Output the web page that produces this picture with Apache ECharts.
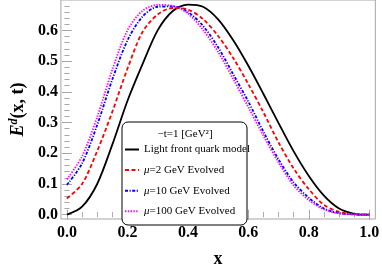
<!DOCTYPE html>
<html><head><meta charset="utf-8">
<script src="https://cdn.jsdelivr.net/npm/echarts@6/dist/echarts.min.js"></script>
<style>html,body{margin:0;padding:0;background:#fff}#c{width:382px;height:273px}</style>
</head><body><div id="c"></div>
<script>
// x grid of the sampled curves
const xs = [0, 0.05, 0.1, 0.15, 0.2, 0.25, 0.3, 0.35, 0.4, 0.45, 0.5, 0.55, 0.6, 0.65, 0.7, 0.75, 0.8, 0.85, 0.9, 0.95, 1.0];
// Light front quark model
const lfqm  = [0, 0.026, 0.100, 0.228, 0.370, 0.490, 0.600, 0.663, 0.684, 0.677, 0.636, 0.568, 0.485, 0.393, 0.298, 0.206, 0.126, 0.062, 0.020, 0.003, 0];
// mu = 2 GeV evolved
const mu2   = [0.053, 0.100, 0.207, 0.335, 0.475, 0.595, 0.652, 0.673, 0.668, 0.637, 0.582, 0.510, 0.425, 0.333, 0.235, 0.150, 0.083, 0.032, 0.009, 0.002, 0];
// mu = 10 GeV evolved
const mu10  = [0.097, 0.167, 0.292, 0.440, 0.567, 0.645, 0.677, 0.678, 0.660, 0.615, 0.545, 0.457, 0.368, 0.270, 0.180, 0.105, 0.055, 0.020, 0.005, 0.001, 0];
// mu = 100 GeV evolved
const mu100 = [0.115, 0.190, 0.318, 0.472, 0.600, 0.664, 0.683, 0.680, 0.655, 0.602, 0.530, 0.442, 0.350, 0.257, 0.170, 0.095, 0.048, 0.017, 0.004, 0.001, 0];

const seriesNames = ['Light front quark model', 'μ=2 GeV Evolved', 'μ=10 GeV Evolved', 'μ=100 GeV Evolved'];
const legendTitle = '−t=1 [GeV²]';
const xTitle = 'x';

const xTicks = [0, 0.2, 0.4, 0.6, 0.8, 1.0];
const xMinorTicks = [0.05, 0.1, 0.15, 0.25, 0.3, 0.35, 0.45, 0.5, 0.55, 0.65, 0.7, 0.75, 0.85, 0.9, 0.95];
const yTicks = [0, 0.1, 0.2, 0.3, 0.4, 0.5, 0.6];
const yMinorTicks = [0.02, 0.04, 0.06, 0.08, 0.12, 0.14, 0.16, 0.18, 0.22, 0.24, 0.26, 0.28, 0.32, 0.34, 0.36, 0.38, 0.42, 0.44, 0.46, 0.48, 0.52, 0.54, 0.56, 0.58, 0.62, 0.64, 0.66, 0.68];

const X_MIN = -0.02, X_MAX = 1.02, Y_MIN = -0.014, Y_MAX = 0.699;
const FRAME = '#a6a6a6';
const SERIF = 'Liberation Serif';
const labelFont = {fontFamily: SERIF, fontWeight: 'bold', fontSize: 16, color: '#000'};

function pairs(arr) { return xs.map((x, i) => [x, arr[i]]); }

function xAx(pos, ticks, len, showLabel, extra) {
  return Object.assign({
    type: 'value', min: X_MIN, max: X_MAX, position: pos,
    axisLine: {show: false},
    splitLine: {show: false},
    axisTick: {show: true, inside: true, length: len, customValues: ticks, lineStyle: {color: FRAME, width: 1}},
    axisLabel: showLabel ? Object.assign({show: true, margin: 6, customValues: ticks, formatter: v => v.toFixed(1)}, labelFont) : {show: false}
  }, extra || {});
}
function yAx(pos, ticks, len, showLabel, extra) {
  return Object.assign({
    type: 'value', min: Y_MIN, max: Y_MAX, position: pos,
    axisLine: {show: false},
    splitLine: {show: false},
    axisTick: {show: true, inside: true, length: len, customValues: ticks, lineStyle: {color: FRAME, width: 1}},
    axisLabel: showLabel ? Object.assign({show: true, margin: 3, customValues: ticks, formatter: v => v.toFixed(1)}, labelFont) : {show: false}
  }, extra || {});
}

const chart = echarts.init(document.getElementById('c'), null, {renderer: 'canvas'});
const lineBase = {type: 'line', symbol: 'none', showSymbol: false, smooth: 0.3, xAxisIndex: 0, yAxisIndex: 0, z: 2};

chart.setOption({
  animation: false,
  backgroundColor: '#fff',
  grid: {left: 46, right: 4, top: 0, bottom: 44, show: true, borderColor: FRAME, borderWidth: 1, backgroundColor: 'transparent'},
  xAxis: [
    xAx('bottom', xTicks, 5, true, {
      name: xTitle, nameLocation: 'middle', nameGap: 31,
      nameTextStyle: {fontFamily: SERIF, fontWeight: 'bold', fontSize: 18, color: '#000'}
    }),
    xAx('bottom', xMinorTicks, 2.5, false),
    xAx('top', xTicks, 5, false),
    xAx('top', xMinorTicks, 2.5, false)
  ],
  yAxis: [
    yAx('left', yTicks, 5, true, {
      name: '{e|E}{s|d}{n|(x, t)}', nameLocation: 'middle', nameGap: 28, nameRotate: 90,
      nameTextStyle: {
        color: '#000',
        rich: {
          e: {fontFamily: SERIF, fontWeight: 'bold', fontStyle: 'italic', fontSize: 18, color: '#000'},
          s: {fontFamily: SERIF, fontWeight: 'bold', fontStyle: 'italic', fontSize: 12, color: '#000', padding: [0, 0, 8, 0]},
          n: {fontFamily: SERIF, fontWeight: 'bold', fontSize: 18, color: '#000'}
        }
      }
    }),
    yAx('left', yMinorTicks, 2.5, false),
    yAx('right', yTicks, 5, false),
    yAx('right', yMinorTicks, 2.5, false)
  ],
  legend: {
    data: seriesNames,
    orient: 'vertical',
    left: 124, top: 144,
    padding: 0,
    itemWidth: 14, itemHeight: 10, itemGap: 9.6,
    z: 6,
    itemStyle: {opacity: 0},
    textStyle: {
      fontFamily: SERIF, fontSize: 11, color: '#000', padding: [0, 0, 0, 0],
      rich: {i: {fontFamily: SERIF, fontSize: 11, fontStyle: 'italic', color: '#000'},
             t: {fontFamily: SERIF, fontSize: 11, color: '#000'}}
    },
    formatter: name => name.indexOf('μ') === 0 ? '{i|μ}{t|' + name.slice(1) + '}' : name
  },
  graphic: [
    {type: 'rect', z: 3, shape: {x: 122, y: 122, width: 125, height: 103, r: 6},
     style: {fill: '#fff', stroke: '#000', lineWidth: 1}},
    {type: 'text', z: 5, x: 185, y: 134,
     style: {text: legendTitle, font: '11px "Liberation Serif"', fill: '#000', textAlign: 'center', textVerticalAlign: 'middle'}}
  ],
  series: [
    Object.assign({}, lineBase, {name: seriesNames[0], data: pairs(lfqm), color: '#000',
      lineStyle: {color: '#000', width: 1.8, type: 'solid'}}),
    Object.assign({}, lineBase, {name: seriesNames[1], data: pairs(mu2), color: '#ff0000',
      lineStyle: {color: '#ff0000', width: 1.8, type: [4, 2.5]}}),
    Object.assign({}, lineBase, {name: seriesNames[2], data: pairs(mu10), color: '#0000ff',
      lineStyle: {color: '#0000ff', width: 1.8, type: [3, 1.5, 1.2, 1.5]}}),
    Object.assign({}, lineBase, {name: seriesNames[3], data: pairs(mu100), color: '#ff00ff',
      lineStyle: {color: '#ff00ff', width: 1.8, type: [1.4, 1.4]}})
  ]
});
</script>
</body></html>
